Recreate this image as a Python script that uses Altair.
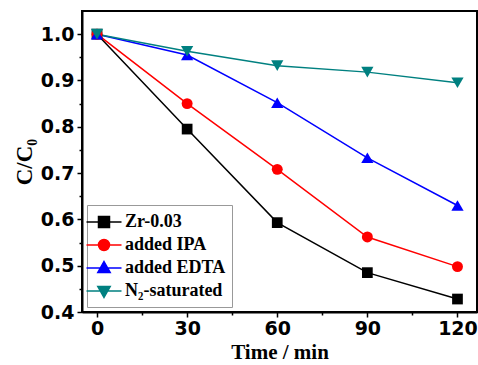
import altair as alt
import pandas as pd

times = [0, 30, 60, 90, 120]
series_names = ["Zr-0.03", "added IPA", "added EDTA", "N\u2082-saturated"]
zr = [1.0, 0.795, 0.593, 0.485, 0.428]
ipa = [1.0, 0.850, 0.708, 0.562, 0.498]
edta = [1.0, 0.955, 0.852, 0.733, 0.630]
n2 = [1.0, 0.963, 0.932, 0.918, 0.895]
colors = ["#000000", "#ff0000", "#0000ff", "#008080"]
shapes = ["square", "circle", "triangle-up", "triangle-down"]
marker_sizes = [115, 120, 150, 150]

x_ticks = [0, 30, 60, 90, 120]
x_minor = [15, 45, 75, 105]
y_ticks = [0.4, 0.5, 0.6, 0.7, 0.8, 0.9, 1.0]
y_minor = [0.45, 0.55, 0.65, 0.75, 0.85, 0.95]

rows = []
for name, vals in zip(series_names, [zr, ipa, edta, n2]):
    for t, v in zip(times, vals):
        rows.append({"t": t, "c": v, "s": name})
df = pd.DataFrame(rows)

# legend symbols: line + marker as custom paths
L = 1.75
m = 0.55
legend_paths = {
    series_names[0]: f"M{-L},0H{L}M{-m},{-m}H{m}V{m}H{-m}Z",
    series_names[1]: f"M{-L},0H{L}M{m},0A{m},{m},0,1,1,{-m},0A{m},{m},0,1,1,{m},0Z",
    series_names[2]: f"M{-L},0H{L}M0,{-0.65}L{0.62},{0.45}L{-0.62},{0.45}Z",
    series_names[3]: f"M{-L},0H{L}M0,{0.65}L{0.62},{-0.45}L{-0.62},{-0.45}Z",
}

def case_expr(mapping):
    expr = "''"
    for k, v in reversed(list(mapping.items())):
        expr = f"datum.value === '{k}' ? '{v}' : ({expr})"
    return expr

shape_sig = case_expr(legend_paths)
color_sig = case_expr(dict(zip(series_names, colors)))

xs = alt.Scale(domain=[-5, 126.5], nice=False, zero=False)
ys = alt.Scale(domain=[0.4, 1.05], nice=False, zero=False)
cs = alt.Scale(domain=series_names, range=colors)

legend = alt.Legend(
    title=None, orient="bottom-left", offset=5, padding=6,
    labelFont="Liberation Serif", labelFontWeight="bold", labelFontSize=18,
    labelColor="black", labelOffset=10, rowPadding=3, symbolSize=400,
    strokeColor="#999999", fillColor="white",
    symbolType={"expr": shape_sig},
    symbolStrokeColor={"expr": color_sig},
    symbolFillColor={"expr": color_sig},
    symbolStrokeWidth=1.5,
    symbolOpacity=1,
)

x_axis = alt.Axis(values=x_ticks, title="Time / min", orient="bottom", labelFont="DejaVu Sans",
                  labelFontWeight="bold", labelFontSize=19, labelColor="black",
                  titleFont="Liberation Serif", titleFontWeight="bold", titleFontSize=21,
                  titleColor="black", titlePadding=3, tickSize=5, tickWidth=1.5, tickColor="black",
                  domainColor="black", domainWidth=2, labelPadding=2, grid=False)
y_axis = alt.Axis(values=y_ticks, title="C/C\u2080", orient="left", format=".1f",
                  labelFont="DejaVu Sans", labelFontWeight="bold", labelFontSize=19,
                  labelColor="black", titleFont="Liberation Serif", titleFontWeight="bold",
                  titleFontSize=23, titleColor="black", titlePadding=4, tickSize=5, tickWidth=1.5,
                  tickColor="black", domainColor="black", domainWidth=2, labelPadding=3, grid=False)

lines = alt.Chart(df).mark_line(strokeWidth=1.5).encode(
    x=alt.X("t:Q", scale=xs, axis=x_axis),
    y=alt.Y("c:Q", scale=ys, axis=y_axis),
    color=alt.Color("s:N", scale=cs, legend=legend),
)

point_layers = []
for name, shp, sz in zip(series_names, shapes, marker_sizes):
    point_layers.append(
        alt.Chart(df).transform_filter(alt.datum.s == name)
        .mark_point(filled=True, opacity=1, size=sz, shape=shp)
        .encode(
            x=alt.X("t:Q", scale=xs, axis=None),
            y=alt.Y("c:Q", scale=ys, axis=None),
            color=alt.Color("s:N", scale=cs, legend=legend),
        )
    )

minor = alt.Chart(df).mark_point(opacity=0).encode(
    x=alt.X("t:Q", scale=xs, axis=alt.Axis(values=x_minor, orient="bottom", labels=False,
                                          title=None, domain=False, tickSize=3, tickWidth=1.5,
                                          tickColor="black", grid=False)),
    y=alt.Y("c:Q", scale=ys, axis=alt.Axis(values=y_minor, orient="left", labels=False,
                                          title=None, domain=False, tickSize=3, tickWidth=1.5,
                                          tickColor="black", grid=False)),
)

chart = alt.layer(lines, *point_layers, minor).resolve_axis(x="independent", y="independent").properties(
    width=395, height=301,
    autosize=alt.AutoSizeParams(type="none"),
    padding={"left": 82, "top": 11, "right": 1, "bottom": 53},
    background="white",
).configure_view(stroke="black", strokeWidth=2)

chart.save("out.html", embed_options={"renderer": "svg", "actions": False})
